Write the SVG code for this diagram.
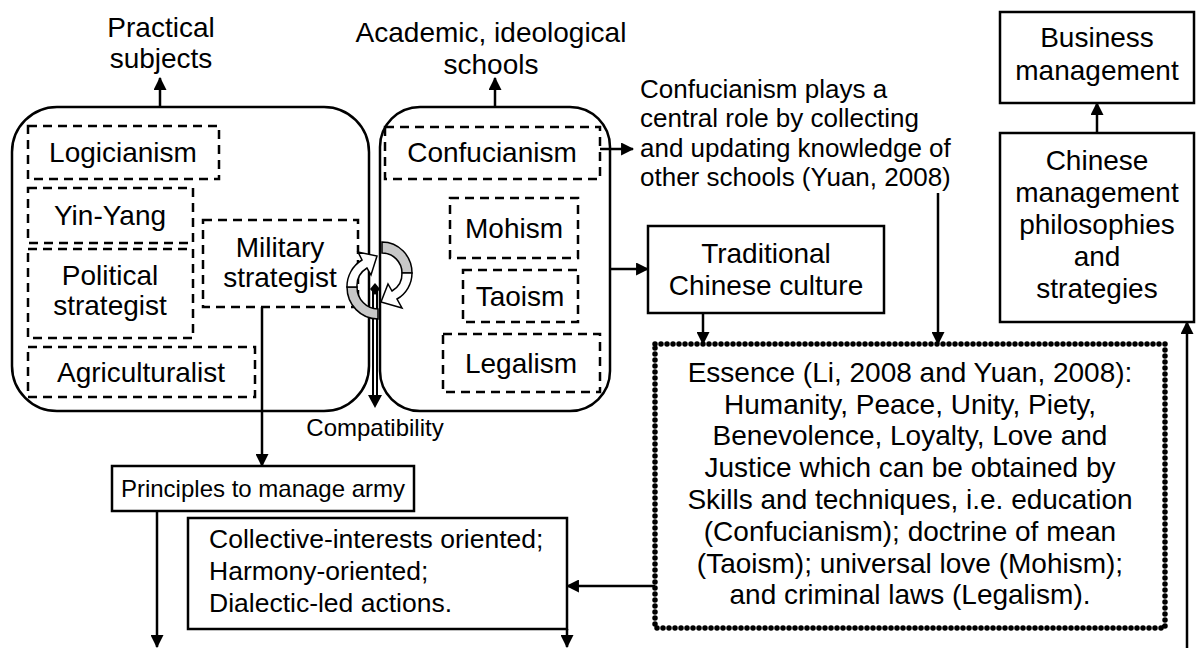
<svg xmlns="http://www.w3.org/2000/svg" width="1197" height="648" viewBox="0 0 1197 648">
<defs>
<marker id="ah" viewBox="0 0 12 12" refX="11" refY="6" markerWidth="13" markerHeight="13" markerUnits="userSpaceOnUse" orient="auto"><path d="M0,0 L12,6 L0,12 Z" fill="#000"/></marker>
<style>
text{font-family:"Liberation Sans",Arial,sans-serif;font-size:28px;fill:#000}
.c{text-anchor:middle}
.box{fill:#fff;stroke:#000;stroke-width:2.5}
.rbox{fill:none;stroke:#000;stroke-width:2.5}
.dash{fill:none;stroke:#000;stroke-width:2.5;stroke-dasharray:9 6}
.dot{fill:none;stroke:#000;stroke-width:5.5;stroke-dasharray:0 6;stroke-linecap:round}
.ln{fill:none;stroke:#000;stroke-width:2.5;marker-end:url(#ah)}
.s26{font-size:26px}
.s24{font-size:24px}
</style>
</defs>
<rect width="1197" height="648" fill="#fff"/>

<g id="connectors">
<path class="ln" d="M160,107 V78"/>
<path class="ln" d="M495,107 V78"/>
<path class="ln" d="M600,149 H633"/>
<path class="ln" d="M610,269 H648"/>
<path class="ln" d="M703,313 V344"/>
<path class="ln" d="M938,193 V344"/>
<path class="ln" d="M1097,133 V103"/>
<path class="ln" d="M1187,648 V322"/>
<path class="ln" d="M262,307 V466"/>
<path class="ln" d="M157,511 V647"/>
<path class="ln" d="M655,586 H567"/>
<path class="ln" d="M567,629 V647"/>
<path d="M375,289 V397" fill="none" stroke="#000" stroke-width="6"/>
<path d="M375,292 V397" fill="none" stroke="#fff" stroke-width="2"/>
<path d="M368,395 L382,395 L375,408 Z" fill="#000"/>
</g>

<g id="practical-subjects">
<rect class="rbox" x="12" y="107" width="357" height="304" rx="45"/>
<text class="c" x="161" y="37">Practical</text>
<text class="c" x="161" y="68">subjects</text>
</g>
<g id="academic-schools">
<rect class="rbox" x="380" y="107" width="230" height="304" rx="40"/>
<text class="c" x="491" y="42">Academic, ideological</text>
<text class="c" x="491" y="74">schools</text>
</g>

<g id="logicianism"><rect class="dash" x="28" y="126" width="191" height="53"/><text class="c" x="123" y="162">Logicianism</text></g>
<g id="yin-yang"><rect class="dash" x="28" y="188" width="165" height="55"/><text class="c" x="110" y="225">Yin-Yang</text></g>
<g id="political-strategist"><rect class="dash" x="28" y="249" width="165" height="89"/><text class="c" x="110" y="285">Political</text><text class="c" x="110" y="315">strategist</text></g>
<g id="military-strategist"><rect class="dash" x="203" y="220" width="155" height="87"/><text class="c" x="280" y="257">Military</text><text class="c" x="280" y="287">strategist</text></g>
<g id="agriculturalist"><rect class="dash" x="28" y="347" width="227" height="50"/><text class="c" x="141" y="382">Agriculturalist</text></g>

<g id="confucianism"><rect class="dash" x="385" y="127" width="215" height="52"/><text class="c" x="492" y="162">Confucianism</text></g>
<g id="mohism"><rect class="dash" x="450" y="198" width="128" height="60"/><text class="c" x="514" y="238">Mohism</text></g>
<g id="taoism"><rect class="dash" x="463" y="270" width="115" height="52"/><text class="c" x="520" y="306">Taoism</text></g>
<g id="legalism"><rect class="dash" x="443" y="334" width="157" height="58"/><text class="c" x="521" y="373">Legalism</text></g>

<g id="cycle">
<path d="M382,242 A30,31 0 0 1 412,273 L402,273 A20,20 0 0 0 382,253 Z" fill="#c8c8c8" stroke="#000" stroke-width="1.5"/>
<path d="M412,273 A30,30 0 0 1 397,299 L402,308 L381,302 L388,284 L392,291 A20,20 0 0 0 402,273 Z" fill="#fff" stroke="#000" stroke-width="1.5"/>
<path d="M378,319 A31,32 0 0 1 347,287 L357,287 A21,22 0 0 0 378,309 Z" fill="#c8c8c8" stroke="#000" stroke-width="1.5"/>
<path d="M347,287 A31,31 0 0 1 362,260 L358,252 L377,256 L371,275 L367,268 A21,21 0 0 0 357,287 Z" fill="#fff" stroke="#000" stroke-width="1.5"/>
<path d="M375,283 L380,289 L375,295 L370,289 Z" fill="#000"/>
</g>
<g id="compatibility"><text class="c s24" x="375" y="436">Compatibility</text></g>

<g id="confucianism-note">
<text class="s26" x="640" y="98">Confucianism plays a</text>
<text class="s26" x="640" y="127">central role by collecting</text>
<text class="s26" x="640" y="157">and updating knowledge of</text>
<text class="s26" x="640" y="186">other schools (Yuan, 2008)</text>
</g>

<g id="traditional-culture"><rect class="box" x="648" y="226" width="236" height="87"/><text class="c" x="766" y="263">Traditional</text><text class="c" x="766" y="295">Chinese culture</text></g>

<g id="business-management"><rect class="box" x="1000" y="12" width="194" height="91"/><text class="c" x="1097" y="47">Business</text><text class="c" x="1097" y="80">management</text></g>
<g id="chinese-management"><rect class="box" x="1000" y="133" width="194" height="189"/>
<text class="c" x="1097" y="170">Chinese</text><text class="c" x="1097" y="202">management</text><text class="c" x="1097" y="234">philosophies</text><text class="c" x="1097" y="266">and</text><text class="c" x="1097" y="298">strategies</text></g>

<g id="essence"><rect class="dot" x="655" y="344" width="510" height="284"/>
<text class="c" x="910" y="382">Essence (Li, 2008 and Yuan, 2008):</text>
<text class="c" x="910" y="414">Humanity, Peace, Unity, Piety,</text>
<text class="c" x="910" y="445">Benevolence, Loyalty, Love and</text>
<text class="c" x="910" y="477">Justice which can be obtained by</text>
<text class="c" x="910" y="509">Skills and techniques, i.e. education</text>
<text class="c" x="910" y="541">(Confucianism); doctrine of mean</text>
<text class="c" x="910" y="573">(Taoism); universal love (Mohism);</text>
<text class="c" x="910" y="604">and criminal laws (Legalism).</text>
</g>

<g id="principles"><rect class="box" x="112" y="466" width="302" height="45"/><text class="c s24" x="263" y="497">Principles to manage army</text></g>
<g id="collective"><rect class="box" x="188" y="518" width="379" height="111"/>
<text x="209" y="548" style="font-size:26.5px">Collective-interests oriented;</text>
<text x="209" y="580" style="font-size:26.5px">Harmony-oriented;</text>
<text x="209" y="612" style="font-size:26.5px">Dialectic-led actions.</text></g>
</svg>
